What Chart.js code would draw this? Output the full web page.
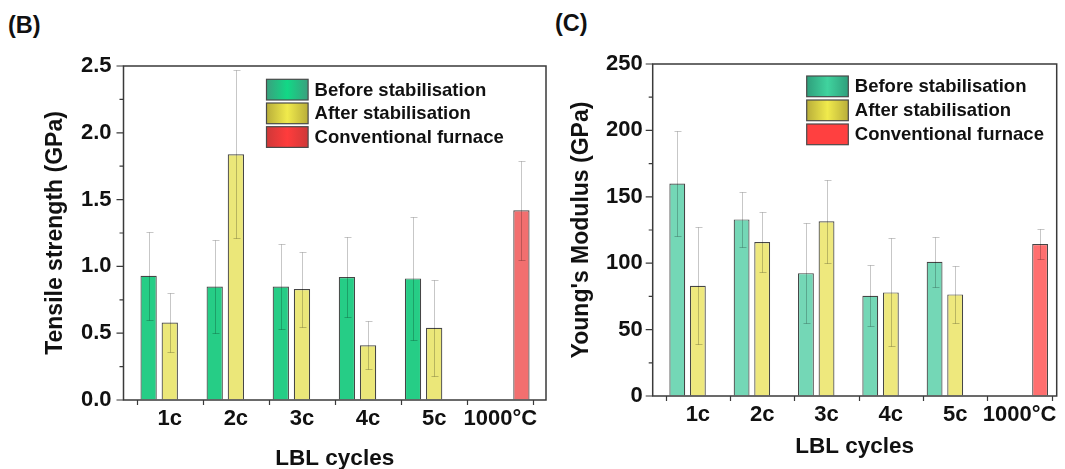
<!DOCTYPE html>
<html>
<head>
<meta charset="utf-8">
<script src="https://cdn.jsdelivr.net/npm/chart.js@4.4.1/dist/chart.umd.min.js"></script>
<style>
  html, body { margin: 0; padding: 0; background: #fff; }
  body { width: 1065px; height: 469px; position: relative; overflow: hidden;
         font-family: 'Liberation Sans', Arial, sans-serif; }
  canvas { position: absolute; top: 0; }
  .tag { position: absolute; font-weight: bold; font-size: 23.5px; color: #111; }
</style>
</head>
<body>
<div class="tag" style="left:8px; top:12px;">(B)</div>
<div class="tag" style="left:555px; top:10px;">(C)</div>
<canvas id="chartB" width="560" height="469" style="left:0"></canvas>
<canvas id="chartC" width="510" height="469" style="left:555px"></canvas>

<script>
// ============================================================
//  LBL cycles — tensile strength (B) and Young's modulus (C)
// ============================================================

const CATEGORIES = ['1c', '2c', '3c', '4c', '5c', '1000°C'];
const SERIES     = ['Before stabilisation', 'After stabilisation', 'Conventional furnace'];

// (B) tensile strength, GPa (mean and ± error)
const TS_BEFORE      = [0.93, 0.85, 0.85, 0.92, 0.91, null];
const TS_BEFORE_ERR  = [0.33, 0.35, 0.32, 0.30, 0.46, null];
const TS_AFTER       = [0.58, 1.84, 0.83, 0.41, 0.54, null];
const TS_AFTER_ERR   = [0.22, 0.63, 0.28, 0.18, 0.36, null];
const TS_FURNACE     = [null, null, null, null, null, 1.42];
const TS_FURNACE_ERR = [null, null, null, null, null, 0.37];
const TS_TICKS       = [0, 0.5, 1.0, 1.5, 2.0, 2.5];

// (C) Young's modulus, GPa (mean and ± error)
const YM_BEFORE      = [160, 133, 92.5, 75.5, 101, null];
const YM_BEFORE_ERR  = [39.5, 20.7, 37.5, 22.8, 18.7, null];
const YM_AFTER       = [83, 116, 131.5, 78, 76.5, null];
const YM_AFTER_ERR   = [44, 22.6, 31.3, 40.7, 21.5, null];
const YM_FURNACE     = [null, null, null, null, null, 114.5];
const YM_FURNACE_ERR = [null, null, null, null, null, 11];
const YM_TICKS       = [0, 50, 100, 150, 200, 250];

const FONT = "'Liberation Sans', Arial, sans-serif";
const INK  = '#111';
const AXIS = '#3a3a3a';

// Origin-like extras: frame box, outward ticks, error bars, inset legend
const originStyle = {
  id: 'originStyle',
  afterDatasetsDraw(chart) {
    const ctx = chart.ctx, ys = chart.scales.y;
    ctx.save();
    ctx.strokeStyle = 'rgba(0,0,0,0.22)';
    ctx.lineWidth   = 1;
    chart.data.datasets.forEach((ds, di) => {
      chart.getDatasetMeta(di).data.forEach((bar, i) => {
        const v = ds.data[i].y, e = ds.errors[i];
        if (v == null || e == null) return;
        const x   = Math.round(bar.x) + 0.5;
        const top = Math.round(ys.getPixelForValue(v + e)) + 0.5;
        const bot = Math.round(ys.getPixelForValue(v - e)) + 0.5;
        ctx.beginPath();
        ctx.moveTo(x, top);     ctx.lineTo(x, bot);
        ctx.moveTo(x - 3, top); ctx.lineTo(x + 4, top);
        ctx.moveTo(x - 3, bot); ctx.lineTo(x + 4, bot);
        ctx.stroke();
      });
    });
    ctx.restore();
  },
  afterDraw(chart, args, opts) {
    const ctx = chart.ctx;
    const { left, right, top, bottom } = chart.chartArea;
    const xs = chart.scales.x, ys = chart.scales.y;
    ctx.save();
    ctx.strokeStyle = AXIS;
    ctx.lineWidth   = 1.5;
    ctx.strokeRect(left, top, right - left, bottom - top);

    // y ticks: major with label, minor halfway
    ctx.lineWidth = 1.2;
    ctx.beginPath();
    ys.ticks.forEach((t, i) => {
      const py = ys.getPixelForValue(t.value);
      ctx.moveTo(left - 7, py); ctx.lineTo(left, py);
      const nx = ys.ticks[i + 1];
      if (nx) {
        const pm = ys.getPixelForValue((t.value + nx.value) / 2);
        ctx.moveTo(left - 4, pm); ctx.lineTo(left, pm);
      }
    });
    // x ticks sit on the category boundaries
    for (let i = 0; i <= CATEGORIES.length; i++) {
      const px = Math.round(xs.getPixelForValue(i + 0.5)) + 0.5;
      ctx.moveTo(px, bottom); ctx.lineTo(px, bottom + 5);
    }
    ctx.stroke();

    // legend
    const lg = opts.legend;
    ctx.font         = 'bold 18.5px ' + FONT;
    ctx.textBaseline = 'middle';
    chart.data.datasets.forEach((ds, k) => {
      const sx = left + lg.dx, sy = top + lg.dy + k * lg.pitch;
      const g  = ctx.createLinearGradient(sx, 0, sx + lg.w, 0);
      const [edge, mid] = opts.swatches[k];
      g.addColorStop(0, edge); g.addColorStop(0.5, mid); g.addColorStop(1, edge);
      ctx.fillStyle = g;
      ctx.fillRect(sx, sy, lg.w, lg.h);
      ctx.strokeStyle = '#4a4a4a';
      ctx.lineWidth   = 1.2;
      ctx.strokeRect(sx, sy, lg.w, lg.h);
      ctx.fillStyle = INK;
      ctx.fillText(ds.label, sx + lg.w + 6.5, sy + lg.h / 2 + 1);
    });
    ctx.restore();
  },
};

function makeDatasets(values, errors, fills) {
  return values.map((vals, k) => ({
    label:              SERIES[k],
    data:               vals.map((v, i) => ({ x: i + 1, y: v })),
    errors:             errors[k],
    backgroundColor:    fills[k],
    borderColor:        'rgba(50,50,50,0.9)',
    borderWidth:        1.2,
    categoryPercentage: 0.96,
    barPercentage:      0.77,
  }));
}

function buildChart(id, cfg) {
  const tickFont  = { family: FONT, size: 22, weight: 'bold' };
  return new Chart(document.getElementById(id), {
    type: 'bar',
    data: { datasets: makeDatasets(cfg.values, cfg.errors, cfg.fills) },
    options: {
      responsive: false,
      animation:  false,
      layout:     { padding: cfg.padding },
      plugins: {
        legend:  { display: false },
        tooltip: { enabled: false },
        originStyle: { legend: cfg.legend, swatches: cfg.swatches },
      },
      scales: {
        x: {
          type: 'linear', offset: false, min: cfg.xMin, max: cfg.xMax,
          afterBuildTicks: s => { s.ticks = CATEGORIES.map((c, i) => ({ value: i + 1 })); },
          afterFit:        s => { s.height = cfg.xHeight; },
          ticks:  { callback: (v, i) => CATEGORIES[i], color: INK, font: tickFont,
                    padding: 1, maxRotation: 0, autoSkip: false },
          grid:   { drawOnChartArea: false, tickLength: 5, tickColor: 'rgba(0,0,0,0)' },
          border: { display: false },
          title:  { display: true, text: 'LBL cycles', color: INK,
                    padding: { top: 0, bottom: cfg.xTitlePad },
                    font: { family: FONT, size: 22.5, weight: 'bold' } },
        },
        y: {
          min: 0, max: cfg.yTicks[cfg.yTicks.length - 1],
          afterBuildTicks: s => { s.ticks = cfg.yTicks.map(v => ({ value: v })); },
          afterFit:        s => { s.width = cfg.yWidth; },
          ticks:  { callback: cfg.fmt, color: INK, font: tickFont, padding: cfg.yPad },
          grid:   { drawOnChartArea: false, tickLength: 7, tickColor: 'rgba(0,0,0,0)' },
          border: { display: false },
          title:  { display: true, text: cfg.yTitle, color: INK, padding: 0,
                    font: { family: FONT, size: 23, weight: 'bold' } },
        },
      },
    },
    plugins: [originStyle],
  });
}

buildChart('chartB', {
  values:  [TS_BEFORE, TS_AFTER, TS_FURNACE],
  errors:  [TS_BEFORE_ERR, TS_AFTER_ERR, TS_FURNACE_ERR],
  fills:   ['#26cd86', '#ebe779', '#f26f6f'],
  swatches: [['#3aa07e', '#12d886'], ['#b9ae3a', '#f0ea4c'], ['#cf3838', '#ff3c3c']],
  yTicks:  TS_TICKS,
  fmt:     v => v.toFixed(1),
  yTitle:  'Tensile strength (GPa)',
  padding: { left: 42, top: 66, right: 14, bottom: 0 },
  yWidth:  81.5, yPad: 5, xHeight: 69, xTitlePad: -3,
  xMin:    0.3, xMax: 6.692,
  legend:  { dx: 143, dy: 13.3, pitch: 23.7, w: 41.6, h: 20.7 },
});

buildChart('chartC', {
  values:  [YM_BEFORE, YM_AFTER, YM_FURNACE],
  errors:  [YM_BEFORE_ERR, YM_AFTER_ERR, YM_FURNACE_ERR],
  fills:   ['#74d7b6', '#eee87d', '#ff6f6f'],
  swatches: [['#2f9f7c', '#40d39e'], ['#b9ae3a', '#f0ea4c'], ['#ff4040', '#ff4040']],
  yTicks:  YM_TICKS,
  fmt:     v => String(v),
  yTitle:  "Young's Modulus (GPa)",
  padding: { left: 13, top: 64, right: 8.3, bottom: 9 },
  yWidth:  84.7, yPad: 3, xHeight: 64, xTitlePad: 0,
  xMin:    0.298, xMax: 6.578,
  legend:  { dx: 154, dy: 12, pitch: 24, w: 41.6, h: 20.7 },
});
</script>
</body>
</html>
